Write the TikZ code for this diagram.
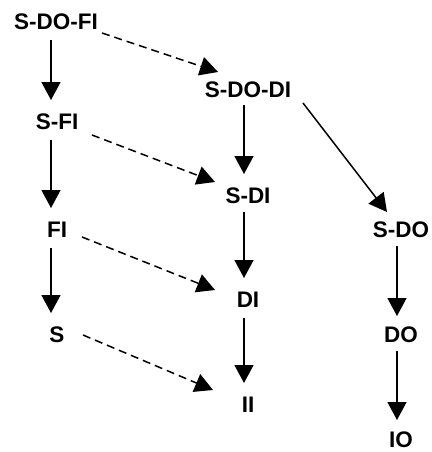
\documentclass[tikz,border=0pt]{standalone}
\usepackage{fontspec}
\setmainfont{Liberation Sans}
\usetikzlibrary{arrows.meta,calc}
\begin{document}
\begin{tikzpicture}[x=1pt,y=-1pt,
  lbl/.style={font=\fontsize{22.5}{26}\selectfont\bfseries, inner sep=0pt, anchor=center},
  arr/.style={line width=1.5pt, -{Triangle[length=18pt,width=19pt]}},
  darr/.style={arr, dash pattern=on 8pt off 5pt}]
\useasboundingbox (0,0) rectangle (431,452);
\node[lbl] (sdofi) at (56,22) {S-DO-FI};
\node[lbl] (sfi) at (57,122) {S-FI};
\node[lbl] (fi) at (57,230) {FI};
\node[lbl] (s) at (57,335) {S};
\node[lbl] (sdodi) at (248,90) {S-DO-DI};
\node[lbl] (sdi) at (248,196) {S-DI};
\node[lbl] (di) at (248,300) {DI};
\node[lbl] (ii) at (248,405) {II};
\node[lbl] (sdo) at (401,230) {S-DO};
\node[lbl] (do) at (401,335) {DO};
\node[lbl] (io) at (401,440) {IO};
% vertical arrows
\draw[arr] ($(sdofi)+(-5,18)$) -- ($(sfi)+(-6,-22)$);
\draw[arr] ($(sfi)+(-6,18)$) -- ($(fi)+(-6,-22)$);
\draw[arr] ($(fi)+(-6,18)$) -- ($(s)+(-6,-22)$);
\draw[arr] ($(sdodi)+(-4,15)$) -- ($(sdi)+(-4,-22)$);
\draw[arr] ($(sdi)+(-4,16)$) -- ($(di)+(-4,-22)$);
\draw[arr] ($(di)+(-4,18)$) -- ($(ii)+(-4,-22)$);
\draw[arr] ($(sdo)+(-4,16)$) -- ($(do)+(-4,-19)$);
\draw[arr] ($(do)+(-4,16)$) -- ($(io)+(-4,-20)$);
% diagonal solid
\draw[arr] ($(sdodi)+(55,13)$) -- ($(sdo)+(-14,-18)$);
% dashed
\draw[darr] ($(sdofi)+(46,11)$) -- ($(sdodi)+(-30,-18)$);
\draw[darr] ($(sfi)+(35,13)$) -- ($(sdi)+(-33,-14)$);
\draw[darr] ($(fi)+(25,7)$) -- ($(di)+(-33,-10)$);
\draw[darr] ($(s)+(26,0)$) -- ($(ii)+(-35,-15)$);
\end{tikzpicture}
\end{document}
